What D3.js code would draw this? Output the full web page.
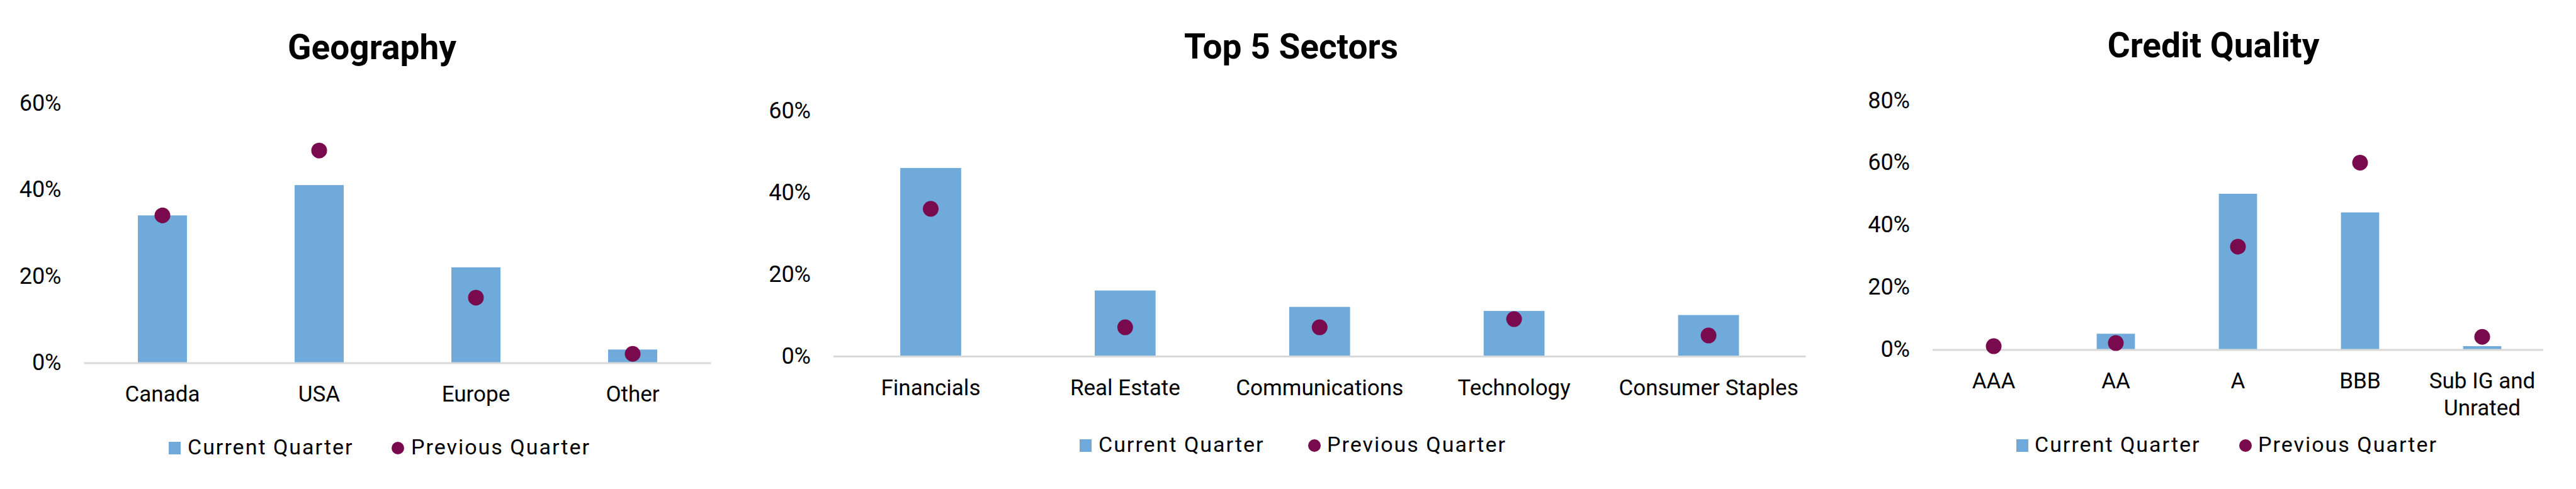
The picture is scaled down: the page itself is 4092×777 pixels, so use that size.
<!DOCTYPE html>
<html>
<head>
<meta charset="utf-8">
<script src="https://cdn.jsdelivr.net/npm/d3@7"></script>
<style>
  html, body { margin: 0; padding: 0; background: #ffffff; }
  svg { display: block; }
  text { font-family: Roboto, "DejaVu Sans", sans-serif; fill: #000; }
</style>
</head>
<body>
<svg id="chart" width="4092" height="777"></svg>
<script>
// ---------- DATA ----------
const geoCategories = ["Canada", "USA", "Europe", "Other"];
const geoCurrent = [34, 41, 22, 3];
const geoPrevious = [34, 49, 15, 2];
const geoTicks = [0, 20, 40, 60];

const sectorCategories = ["Financials", "Real Estate", "Communications", "Technology", "Consumer Staples"];
const sectorCurrent = [46, 16, 12, 11, 10];
const sectorPrevious = [36, 7, 7, 9, 5];
const sectorTicks = [0, 20, 40, 60];

const creditCategories = ["AAA", "AA", "A", "BBB", "Sub IG and\nUnrated"];
const creditCurrent = [0, 5, 50, 44, 1];
const creditPrevious = [1, 2, 33, 60, 4];
const creditTicks = [0, 20, 40, 60, 80];

const titles = ["Geography", "Top 5 Sectors", "Credit Quality"];
const legendLabels = ["Current Quarter", "Previous Quarter"];

// ---------- STYLE / LAYOUT ----------
const barColor = "#6FAADB";
const dotColor = "#7A0A4E";
const axisColor = "#D9D9D9";

const layouts = [
  { left: 133.5, right: 1129.5, zeroY: 576, topY: 163.5, titleX: 591, titleY: 94,
    sqX: 268, text1X: 298, dotX: 632, text2X: 653, legendY: 722 },
  { left: 1324, right: 2868.5, zeroY: 565.5, topY: 176, titleX: 2051, titleY: 93,
    sqX: 1715, text1X: 1745, dotX: 2088, text2X: 2108, legendY: 718 },
  { left: 3070, right: 4040, zeroY: 555, topY: 159.6, titleX: 3516, titleY: 91,
    sqX: 3203, text1X: 3232, dotX: 3567, text2X: 3587, legendY: 718 }
];

const datasets = [
  { cats: geoCategories, cur: geoCurrent, prev: geoPrevious, ticks: geoTicks },
  { cats: sectorCategories, cur: sectorCurrent, prev: sectorPrevious, ticks: sectorTicks },
  { cats: creditCategories, cur: creditCurrent, prev: creditPrevious, ticks: creditTicks }
];

const svg = d3.select("#chart");

datasets.forEach((ds, i) => {
  const L = layouts[i];
  const g = svg.append("g");
  const yMax = ds.ticks[ds.ticks.length - 1];

  const x = d3.scaleBand().domain(ds.cats).range([L.left, L.right])
    .paddingInner(0.687).paddingOuter(0.3435);
  const y = d3.scaleLinear().domain([0, yMax]).range([L.zeroY, L.topY]);

  // title
  g.append("text").attr("x", L.titleX).attr("y", L.titleY)
    .attr("text-anchor", "middle").attr("font-size", 55).attr("font-weight", 700)
    .text(titles[i]);

  // y axis
  const yAxis = g.append("g").attr("transform", `translate(${L.left},0)`)
    .call(d3.axisLeft(y).tickValues(ds.ticks).tickSize(0).tickPadding(36)
      .tickFormat(d => d + "%"));
  yAxis.select(".domain").remove();
  yAxis.selectAll("text").attr("font-size", 36).attr("font-family", "Roboto").attr("fill", "#000");

  // bars
  g.selectAll("rect.bar").data(ds.cats).enter().append("rect")
    .attr("class", "bar")
    .attr("x", d => x(d))
    .attr("width", x.bandwidth())
    .attr("y", (d, k) => y(ds.cur[k]))
    .attr("height", (d, k) => y(0) - y(ds.cur[k]))
    .attr("fill", barColor);

  // x axis
  const xAxis = g.append("g").attr("transform", `translate(0,${L.zeroY})`)
    .call(d3.axisBottom(x).tickSize(0));
  xAxis.select(".domain").remove();
  g.append("line").attr("x1", L.left).attr("x2", L.right)
    .attr("y1", L.zeroY + 1).attr("y2", L.zeroY + 1)
    .attr("stroke", axisColor).attr("stroke-width", 3);
  xAxis.selectAll("text").each(function(d) {
    const t = d3.select(this);
    const lines = d.split("\n");
    t.text(null).attr("y", 62).attr("dy", 0)
      .attr("font-size", 35).attr("font-family", "Roboto").attr("fill", "#000");
    lines.forEach((ln, j) => {
      t.append("tspan").attr("x", 0).attr("y", 62 + j * 42.5).text(ln);
    });
  });

  // dots
  g.selectAll("circle.prev").data(ds.cats).enter().append("circle")
    .attr("class", "prev")
    .attr("cx", d => x(d) + x.bandwidth() / 2)
    .attr("cy", (d, k) => y(ds.prev[k]))
    .attr("r", 12.5)
    .attr("fill", dotColor);

  // legend
  const lg = g.append("g");
  lg.append("rect").attr("x", L.sqX).attr("y", L.legendY - 20)
    .attr("width", 19).attr("height", 20).attr("fill", barColor);
  lg.append("text").attr("x", L.text1X).attr("y", L.legendY)
    .attr("font-size", 34).attr("letter-spacing", 2).text(legendLabels[0]);
  lg.append("circle").attr("cx", L.dotX).attr("cy", L.legendY - 10).attr("r", 10)
    .attr("fill", dotColor);
  lg.append("text").attr("x", L.text2X).attr("y", L.legendY)
    .attr("font-size", 34).attr("letter-spacing", 2).text(legendLabels[1]);
});
</script>
</body>
</html>
